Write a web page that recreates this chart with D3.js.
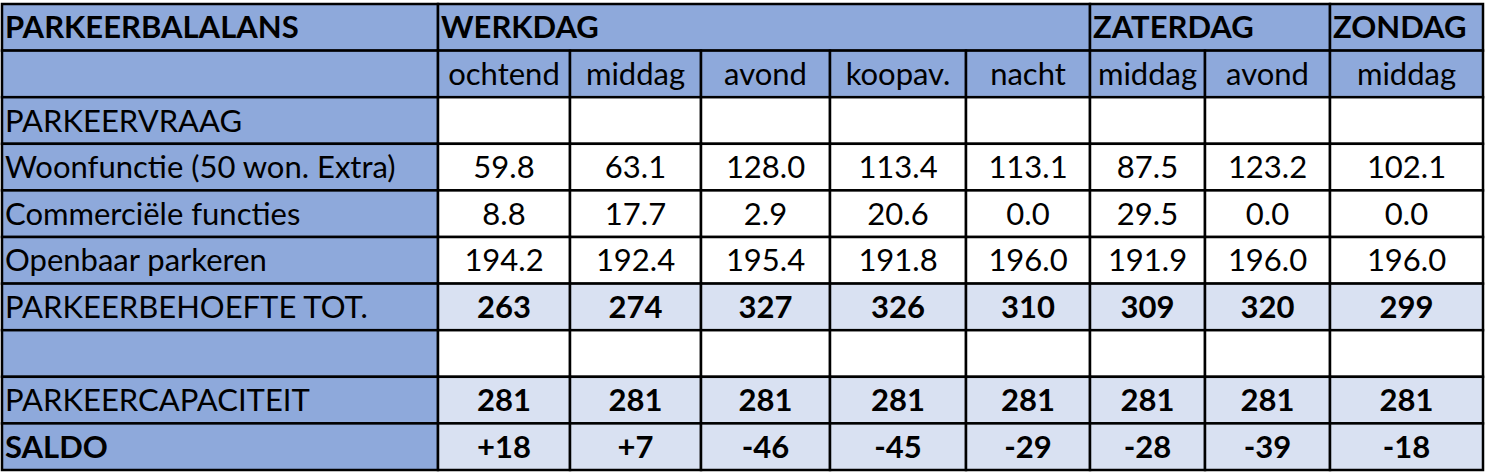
<!DOCTYPE html>
<html><head><meta charset="utf-8">
<script src="https://cdn.jsdelivr.net/npm/d3@7"></script>
<style>body{margin:0;background:#fff}text{font-family:Lato,"Open Sans",sans-serif}</style>
</head><body>
<script>
var groups = [["WERKDAG", 5], ["ZATERDAG", 2], ["ZONDAG", 1]];
var periods = ["ochtend", "middag", "avond", "koopav.", "nacht", "middag", "avond", "middag"];
var woon = ["59.8", "63.1", "128.0", "113.4", "113.1", "87.5", "123.2", "102.1"];
var commercieel = ["8.8", "17.7", "2.9", "20.6", "0.0", "29.5", "0.0", "0.0"];
var openbaar = ["194.2", "192.4", "195.4", "191.8", "196.0", "191.9", "196.0", "196.0"];
var behoefte = [263, 274, 327, 326, 310, 309, 320, 299];
var capaciteit = [281, 281, 281, 281, 281, 281, 281, 281];
var saldo = ["+18", "+7", "-46", "-45", "-29", "-28", "-39", "-18"];

// rows: label, values, label bold, values bold, fill
var rows = [
  ["PARKEERVRAAG", null, false, false, "#fff"],
  ["Woonfunctie (50 won. Extra)", woon, false, false, "#fff"],
  ["Commerciële functies", commercieel, false, false, "#fff"],
  ["Openbaar parkeren", openbaar, false, false, "#fff"],
  ["PARKEERBEHOEFTE TOT.", behoefte, false, true, "#D9E1F2"],
  ["", null, false, false, "#fff"],
  ["PARKEERCAPACITEIT", capaciteit, false, true, "#D9E1F2"],
  ["SALDO", saldo, true, true, "#D9E1F2"]
];

var edges = [2, 438, 570, 701, 830, 966, 1090, 1205, 1330, 1483];
var blue = "#8EA9DB";
var y = d3.scaleLinear().domain([0, 10]).range([4, 470]);
var rh = y(1) - y(0);

var svg = d3.select("body").append("svg").attr("width", 1490).attr("height", 473);
var g = svg.append("g");

function cell(x0, x1, r, fill, txt, bold, anchor) {
  g.append("rect").attr("x", x0).attr("y", y(r)).attr("width", x1 - x0).attr("height", rh)
    .attr("fill", fill).attr("stroke", "#000").attr("stroke-width", 2.5);
  if (txt === "" || txt == null) return;
  var tx = anchor == "start" ? x0 + 3 : (x0 + x1) / 2;
  g.append("text").attr("x", tx).attr("y", y(r) + rh / 2 + 11)
    .attr("text-anchor", anchor || "middle").attr("font-size", 31)
    .attr("font-weight", bold ? "bold" : "normal").text(txt);
}

// header row
cell(edges[0], edges[1], 0, blue, "PARKEERBALALANS", true, "start");
var ci = 1;
groups.forEach(function(gr) {
  cell(edges[ci], edges[ci + gr[1]], 0, blue, gr[0], true, "start");
  ci += gr[1];
});
// period row
cell(edges[0], edges[1], 1, blue, "", false);
periods.forEach(function(p, i) { cell(edges[i + 1], edges[i + 2], 1, blue, p, false); });
// body
rows.forEach(function(row, r) {
  cell(edges[0], edges[1], r + 2, blue, row[0], row[2], "start");
  for (var i = 0; i < 8; i++) {
    cell(edges[i + 1], edges[i + 2], r + 2, row[4], row[1] ? row[1][i] : "", row[3]);
  }
});
</script>
</body></html>
